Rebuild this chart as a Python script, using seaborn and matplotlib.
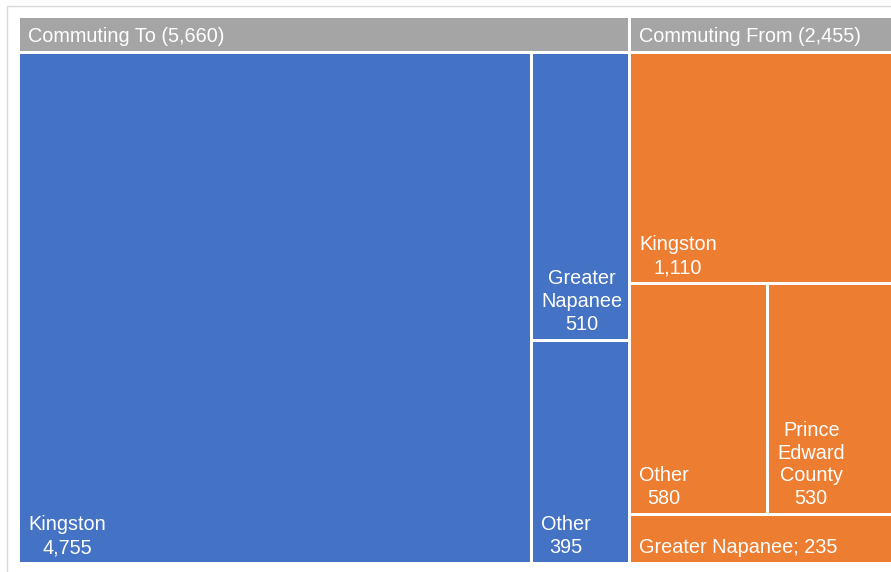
import matplotlib
matplotlib.use("Agg")
import matplotlib.pyplot as plt
from matplotlib.patches import Rectangle
import seaborn as sns

# ---- data ----
groups = ["Commuting To", "Commuting From"]
to_names = ["Kingston", "Greater Napanee", "Other"]
to_values = [4755, 510, 395]
to_labels = ["Kingston\n4,755", "Greater\nNapanee\n510", "Other\n395"]
from_names = ["Kingston", "Other", "Prince Edward County", "Greater Napanee"]
from_values = [1110, 580, 530, 235]
from_labels = ["Kingston\n1,110", "Other\n580", "Prince\nEdward\nCounty\n530", "Greater Napanee; 235"]

sns.set_theme(style="white")
plt.rcParams['font.family'] = ['Liberation Sans', 'DejaVu Sans']
palette = sns.color_palette(["#4472C4", "#ED7D31"])
header_color = "#A5A5A5"


def worst(row, length):
    s = sum(row)
    return max(max(length ** 2 * r / s ** 2, s ** 2 / (length ** 2 * r)) for r in row)


def layoutrow(row, x, y, w, h):
    s = sum(row)
    out = []
    if w >= h:
        cw = s / h
        cy = y
        for a in row:
            rh = a / cw
            out.append((x, cy, cw, rh))
            cy += rh
        return out, (x + cw, y, w - cw, h)
    else:
        rh = s / w
        cx = x
        for a in row:
            rw = a / rh
            out.append((cx, y, rw, rh))
            cx += rw
        return out, (x, y + rh, w, h - rh)


def squarify(values, x, y, w, h):
    total = sum(values)
    remaining = [v * w * h / total for v in values]
    rects = []
    rect = (x, y, w, h)
    while remaining:
        length = min(rect[2], rect[3])
        row = [remaining.pop(0)]
        while remaining and worst(row + [remaining[0]], length) <= worst(row, length):
            row.append(remaining.pop(0))
        out, rect = layoutrow(row, *rect)
        rects.extend(out)
    return rects


W, H = 891, 572
fig = plt.figure(figsize=(W / 100, H / 100), dpi=100)
ax = fig.add_axes([0, 0, 1, 1])
ax.set_xlim(0, W)
ax.set_ylim(H, 0)
ax.axis("off")

# outer chart frame
ax.add_patch(Rectangle((7, 6), 920, 600, facecolor="white", edgecolor="#D9D9D9", lw=1.0))

gap = 3.0
fs = 14.3
X0, Y0, X1, Y1 = 20 - gap / 2, 18 - gap / 2, 893 + gap / 2, 562 + gap / 2
header_h = 33 + gap

all_children = [(to_values, to_labels), (from_values, from_labels)]
totals = [sum(to_values), sum(from_values)]
grects = squarify(totals, X0, Y0, X1 - X0, Y1 - Y0)

for gi, (gx, gy, gw, gh) in enumerate(grects):
    # header
    ax.add_patch(Rectangle((gx + gap / 2, gy + gap / 2), gw - gap, header_h - gap,
                           facecolor=header_color, edgecolor="none"))
    ax.text(gx + gap / 2 + 8, gy + header_h / 2 + 2, f"{groups[gi]} ({totals[gi]:,})",
            color="white", fontsize=fs, ha="left", va="center")
    vals, labs = all_children[gi]
    crects = squarify(vals, gx, gy + header_h, gw, gh - header_h)
    for (cx, cy, cw, ch), lab in zip(crects, labs):
        ax.add_patch(Rectangle((cx + gap / 2, cy + gap / 2), cw - gap, ch - gap,
                               facecolor=palette[gi], edgecolor="none"))
        ax.text(cx + gap / 2 + 8, cy + ch - gap / 2 - 5, lab, color="white",
                fontsize=fs, ha="left", va="bottom", multialignment="center",
                linespacing=1.25)

fig.savefig("out.png", dpi=100)
